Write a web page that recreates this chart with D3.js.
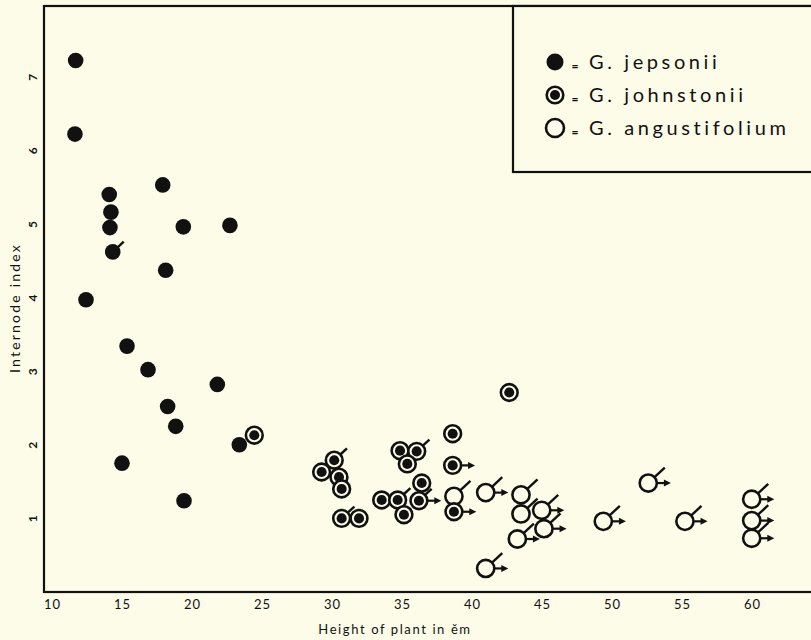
<!DOCTYPE html>
<html>
<head>
  <meta charset="utf-8">
  <title>Internode index vs height</title>
  <script src="https://cdn.jsdelivr.net/npm/d3@7"></script>
  <style>
    html, body { margin: 0; padding: 0; background: #fcfce8; }
    svg { display: block; }
    text { font-family: Lato, "DejaVu Sans", sans-serif; fill: #111; }
  </style>
</head>
<body>
<svg id="chart" width="811" height="640"></svg>
<script>
  // heights (cm) and internode index
  // mark: "t" = slanted tick, "a" = arrow to the right
  var jepsonii = [
    [11.69, 7.22], [11.64, 6.22], [14.09, 5.40], [14.21, 5.16], [14.14, 4.95],
    [14.34, 4.62, 't'], [12.43, 3.97], [17.91, 5.53], [18.12, 4.37], [19.38, 4.96],
    [22.71, 4.98], [15.36, 3.34], [16.86, 3.02], [18.26, 2.52], [18.84, 2.25],
    [21.81, 2.82], [23.38, 2.00], [15.00, 1.75], [19.43, 1.24]
  ];
  var johnstonii = [
    [24.45, 2.13], [42.66, 2.71],
    [30.16, 1.79, 't'], [29.26, 1.63], [30.50, 1.56], [30.69, 1.40],
    [30.69, 1.00, 't'], [31.93, 1.00],
    [34.86, 1.92], [36.05, 1.91, 't'], [35.38, 1.74],
    [38.62, 2.15], [38.62, 1.72, 'a'],
    [33.55, 1.25], [34.69, 1.25, 't'], [36.41, 1.48], [36.21, 1.24, 'ta'],
    [35.14, 1.05], [38.71, 1.09, 'a']
  ];
  var angustifolium = [
    [38.71, 1.30, 't'], [40.98, 1.35, 'ta'], [43.50, 1.32, 't'], [43.50, 1.06, 't'],
    [44.98, 1.11, 'ta'], [45.14, 0.86, 'ta'], [43.24, 0.72, 'ta'], [40.98, 0.32, 'ta'],
    [52.59, 1.48, 'ta'], [49.38, 0.96, 'ta'], [55.21, 0.96, 'ta'],
    [59.98, 1.26, 'ta'], [59.98, 0.97, 'ta'], [59.98, 0.73, 'ta']
  ];
  var xTicks = [10, 15, 20, 25, 30, 35, 40, 45, 50, 55, 60];
  var yTicks = [1, 2, 3, 4, 5, 6, 7];
  var legendLabels = ['G. jepsonii', 'G. johnstonii', 'G. angustifolium'];

  var ink = '#111', paper = '#fcfce8';
  var plotLeft = 44, plotTop = 6, plotBottom = 592, plotRight = 822;

  var svg = d3.select('#chart');
  var x = d3.scaleLinear().domain([9.43, 65]).range([plotLeft, plotRight]);
  var y = d3.scaleLinear().domain([0, 7.96]).range([plotBottom, plotTop]);

  svg.append('rect').attr('width', 811).attr('height', 640).attr('fill', paper);

  // frame
  svg.append('rect')
    .attr('x', plotLeft).attr('y', plotTop)
    .attr('width', plotRight - plotLeft).attr('height', plotBottom - plotTop)
    .attr('fill', 'none').attr('stroke', ink).attr('stroke-width', 2.2);

  var xAxis = svg.append('g')
    .attr('transform', 'translate(0,' + plotBottom + ')')
    .call(d3.axisBottom(x).tickValues(xTicks).tickSize(0).tickPadding(8));
  xAxis.select('.domain').remove();
  xAxis.selectAll('text')
    .style('font-size', '13px').style('letter-spacing', '1px').attr('fill', ink);

  var yAxis = svg.append('g')
    .attr('transform', 'translate(' + plotLeft + ',0)')
    .call(d3.axisLeft(y).tickValues(yTicks).tickSize(0));
  yAxis.select('.domain').remove();
  yAxis.selectAll('text')
    .attr('x', 0).attr('dy', '0.35em')
    .attr('text-anchor', 'middle')
    .attr('transform', 'translate(-11,0) rotate(-90)')
    .style('font-size', '12px').style('font-weight', 'bold').attr('fill', ink);

  svg.append('text')
    .attr('x', 395).attr('y', 634)
    .attr('text-anchor', 'middle')
    .style('font-size', '13px').style('letter-spacing', '1.6px')
    .text('Height of plant in ĕm');

  svg.append('text')
    .attr('transform', 'translate(20,308) rotate(-90)')
    .attr('text-anchor', 'middle')
    .style('font-size', '14px').style('letter-spacing', '2.2px')
    .text('Internode index');

  // tick / arrow flags drawn out from the marker edge
  function addMarks(g, d, r, len) {
    var m = d[2] || '';
    var cx = x(d[0]), cy = y(d[1]);
    if (m.indexOf('t') >= 0) {
      var a = -0.75;
      g.append('line')
        .attr('x1', cx + r * Math.cos(a)).attr('y1', cy + r * Math.sin(a))
        .attr('x2', cx + (r + len) * Math.cos(a)).attr('y2', cy + (r + len) * Math.sin(a))
        .attr('stroke', ink).attr('stroke-width', 2.4);
    }
    if (m.indexOf('a') >= 0) {
      g.append('line')
        .attr('x1', cx + r).attr('y1', cy)
        .attr('x2', cx + r + 8).attr('y2', cy)
        .attr('stroke', ink).attr('stroke-width', 2.2);
      g.append('path')
        .attr('d', 'M' + (cx + r + 7) + ',' + (cy - 3.5) + 'L' + (cx + r + 14) + ',' + cy + 'L' + (cx + r + 7) + ',' + (cy + 3.5) + 'Z')
        .attr('fill', ink);
    }
  }

  function dotMarker(g, cx, cy, r) {
    g.append('circle').attr('cx', cx).attr('cy', cy).attr('r', r).attr('fill', ink);
  }
  function ringMarker(g, cx, cy, r) {
    g.append('circle').attr('cx', cx).attr('cy', cy).attr('r', r)
      .attr('fill', paper).attr('stroke', ink).attr('stroke-width', 2.6);
    g.append('circle').attr('cx', cx).attr('cy', cy).attr('r', r * 0.6).attr('fill', ink);
  }
  function openMarker(g, cx, cy, r) {
    g.append('circle').attr('cx', cx).attr('cy', cy).attr('r', r)
      .attr('fill', paper).attr('stroke', ink).attr('stroke-width', 2.6);
  }

  var plot = svg.append('g');

  angustifolium.forEach(function(d) {
    var g = plot.append('g');
    addMarks(g, d, 8.6, 14);
    openMarker(g, x(d[0]), y(d[1]), 8.6);
  });
  johnstonii.forEach(function(d) {
    var g = plot.append('g');
    addMarks(g, d, 8.4, 9);
    ringMarker(g, x(d[0]), y(d[1]), 8.4);
  });
  jepsonii.forEach(function(d) {
    var g = plot.append('g');
    addMarks(g, d, 6, 9);
    dotMarker(g, x(d[0]), y(d[1]), 7.8);
  });

  // legend
  var lg = svg.append('g');
  lg.append('rect')
    .attr('x', 513).attr('y', plotTop)
    .attr('width', 320).attr('height', 172 - plotTop)
    .attr('fill', paper).attr('stroke', ink).attr('stroke-width', 2.2);

  var rowY = [62, 95, 128];
  var drawers = [
    function(g, cx, cy) { dotMarker(g, cx, cy, 8.5); },
    function(g, cx, cy) { ringMarker(g, cx, cy, 8.3); },
    function(g, cx, cy) { openMarker(g, cx, cy, 9); }
  ];
  legendLabels.forEach(function(label, i) {
    drawers[i](lg, 555, rowY[i]);
    lg.append('text')
      .attr('x', 575).attr('y', rowY[i] + 8)
      .attr('text-anchor', 'middle')
      .style('font-size', '12px').style('font-weight', 'bold')
      .text('=');
    lg.append('text')
      .attr('x', 589).attr('y', rowY[i] + 7)
      .style('font-size', '20px').style('letter-spacing', '3.6px')
      .text(label);
  });
</script>
</body>
</html>
